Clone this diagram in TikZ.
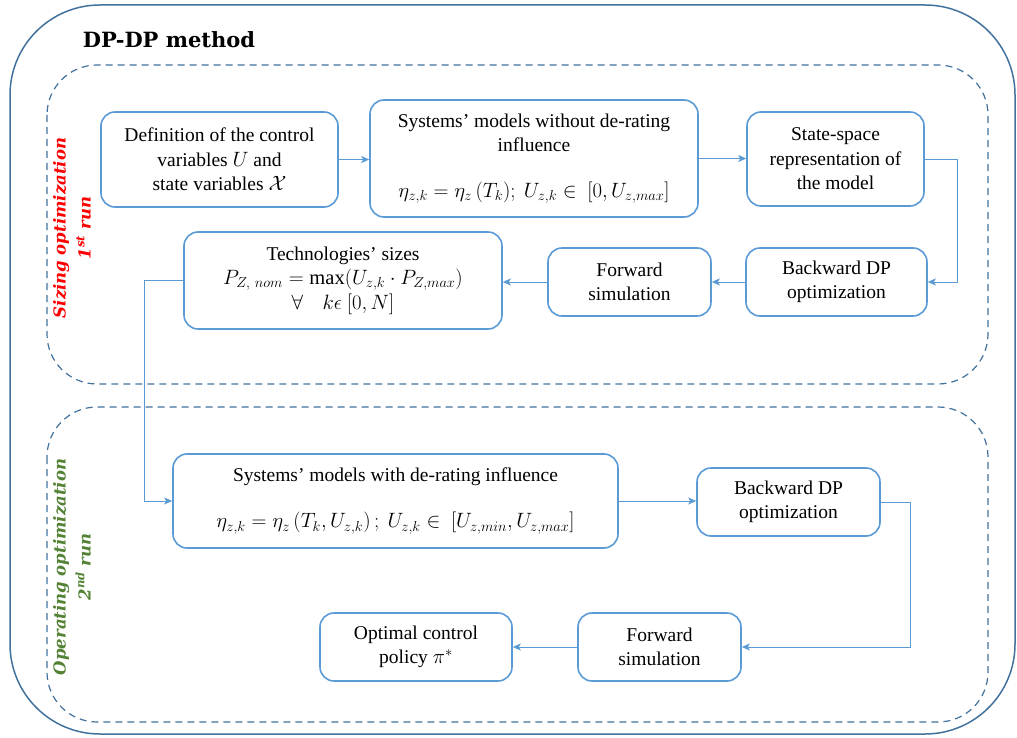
\documentclass[tikz,border=0pt]{standalone}
\usepackage{fontspec}
\setmainfont{Liberation Serif}
\newfontfamily\headfont{DejaVu Serif}
\usepackage{amsmath}
\DeclareMathSizes{19.5}{20.5}{15.5}{12}
\usetikzlibrary{arrows.meta}
\definecolor{boxblue}{HTML}{5B9BD5}
\definecolor{frameblue}{HTML}{41719C}
\definecolor{runred}{HTML}{FF0000}
\definecolor{rungreen}{HTML}{548235}

\begin{document}
\begin{tikzpicture}[x=1pt,y=-1pt,
  stage/.style={draw=boxblue, line width=1.6pt, rounded corners=14pt,
    align=center, inner sep=0pt, font=\fontsize{19.5}{24.5}\selectfont},
  flow/.style={draw=boxblue, line width=0.9pt,
    -{Stealth[length=8pt,width=7pt,inset=2pt]}},
  frame/.style={draw=frameblue, line width=1.5pt},
  runframe/.style={draw=frameblue, line width=1.2pt,
    dash pattern=on 7pt off 5pt, rounded corners=50pt},
  runlabel/.style={rotate=90, align=center,
    font=\headfont\bfseries\itshape\fontsize{16.5}{25}\selectfont}
]
\useasboundingbox (0,0) rectangle (1017,738);

% outer frame and the two run frames
\draw[frame, rounded corners=90pt] (10,5) rectangle (1015,734);
\draw[runframe] (47,65) rectangle (988,384);
\draw[runframe] (47,407) rectangle (988,722);

\node[font=\headfont\bfseries\fontsize{21}{25}\selectfont] (title) at (169,40) {DP-DP method};

\node[runlabel, text=runred] (sizing) at (72,228)
  {Sizing optimization\\1\textsuperscript{st} run};
\node[runlabel, text=rungreen] (operating) at (72,567)
  {Operating optimization\\2\textsuperscript{nd} run};

% first run: sizing
\node[stage, minimum width=237pt, minimum height=95pt] (def) at (219.5,159.5)
  {Definition of the control\\variables $U$ and\\state variables $\mathcal{X}$};
\node[stage, minimum width=328pt, minimum height=117pt] (sysA) at (534,158.5)
  {Systems' models without de-rating\\influence\\[21pt]
   $\eta_{z,k}=\eta_z\,(T_k);\ U_{z,k}\in\ [0,U_{z,max}]$};
\node[stage, minimum width=177pt, minimum height=94pt] (ss) at (835.5,159)
  {State-space\\representation of\\the model};
\node[stage, minimum width=181pt, minimum height=68pt] (bdpA) at (836.5,282)
  {Backward DP\\optimization};
\node[stage, minimum width=163pt, minimum height=68pt] (fwdA) at (629.5,282)
  {Forward\\simulation};
\node[stage, minimum width=318pt, minimum height=97pt] (tech) at (343,280.5)
  {Technologies' sizes\\
   $P_{Z,\ nom}=\max(U_{z,k}\cdot P_{Z,max})$\\
   $\forall\quad k\epsilon\ [0,N]$};

% second run: operating
\node[stage, minimum width=445pt, minimum height=94pt] (sysB) at (395.5,501)
  {Systems' models with de-rating influence\\[21.5pt]
   $\eta_{z,k}=\eta_z\left(T_k,U_{z,k}\right);\ U_{z,k}\in\ [U_{z,min},U_{z,max}]$};
\node[stage, minimum width=183pt, minimum height=68pt] (bdpB) at (788.5,502)
  {Backward DP\\optimization};
\node[stage, minimum width=163pt, minimum height=68pt] (fwdB) at (659.5,647)
  {Forward\\simulation};
\node[stage, minimum width=192pt, minimum height=68pt] (opt) at (416,647)
  {Optimal control\\policy $\pi^*$};

% connectors
\draw[flow] (def.east) -- (def.east -| sysA.west);
\draw[flow] (sysA.east) -- (sysA.east -| ss.west);
\draw[flow] (ss.east) -- ++(33,0) |- (bdpA.east);
\draw[flow] (bdpA.west) -- (fwdA.east);
\draw[flow] (fwdA.west) -- (fwdA.west -| tech.east);
\draw[flow] (tech.west) -- ++(-39,0) |- (sysB.west);
\draw[flow] (sysB.east) -- (sysB.east -| bdpB.west);
\draw[flow] (bdpB.east) -- ++(30,0) |- (fwdB.east);
\draw[flow] (fwdB.west) -- (opt.east);
\end{tikzpicture}
\end{document}
